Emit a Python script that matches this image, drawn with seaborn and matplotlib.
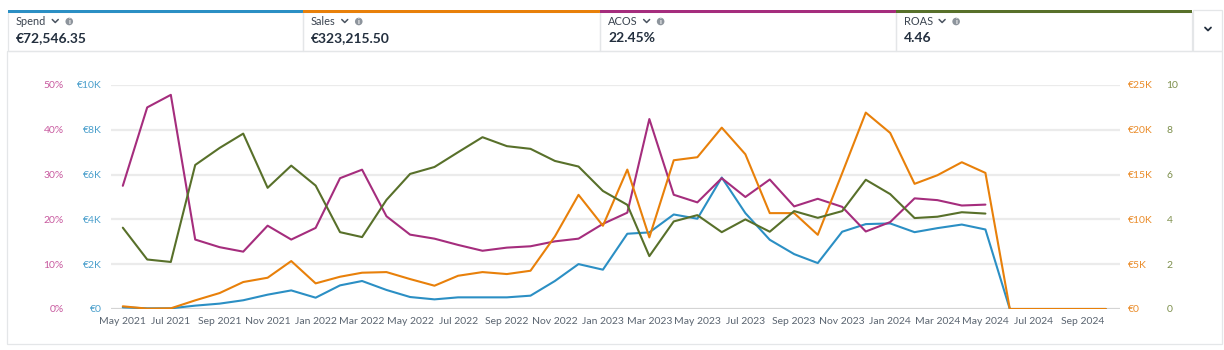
import numpy as np
import pandas as pd
import matplotlib
matplotlib.use("Agg")
import matplotlib.pyplot as plt
import matplotlib.dates as mdates
from matplotlib.patches import Rectangle, Circle
from matplotlib.ticker import FuncFormatter, MultipleLocator
import seaborn as sns

# ---- data (monthly, May 2021 .. Oct 2024) ----
months = pd.date_range("2021-05-01", "2024-10-01", freq="MS")

spend = [74, 30, 30, 150, 240, 390, 640, 830,
         505, 1055, 1250, 850, 535, 430, 520, 520, 520, 595, 1250, 2005,
         1755, 3360, 3420, 4220, 4030, 5870, 4280, 3090, 2450, 2050, 3450, 3790,
         3820, 3430, 3610, 3770, 3550, 0, 0, 0, 0, 0]

sales = [300, 40, 75, 965, 1780, 3010, 3490, 5350,
         2860, 3600, 4050, 4120, 3340, 2600, 3710, 4120, 3900, 4270, 8100, 12740,
         9290, 15560, 7990, 16600, 16940, 20240, 17270, 10700, 10700, 8280, 15160, 21920,
         19650, 13970, 14930, 16380, 15190, 0, 0, 0, 0, 0]

acos = [27.5, 45.0, 47.8, 15.5, 13.8, 12.8, 18.6, 15.5,
        18.1, 29.2, 31.1, 20.7, 16.6, 15.7, 14.3, 13.0, 13.7, 14.0, 15.1, 15.7,
        19.0, 21.5, 42.4, 25.5, 23.8, 29.2, 25.0, 28.9, 22.9, 24.6, 22.8, 17.3,
        19.4, 24.7, 24.3, 23.1, 23.3, np.nan, np.nan, np.nan, np.nan, np.nan]

roas = [3.63, 2.21, 2.10, 6.43, 7.19, 7.83, 5.41, 6.40,
        5.51, 3.43, 3.21, 4.87, 6.03, 6.34, 7.00, 7.67, 7.27, 7.15, 6.61, 6.36,
        5.27, 4.65, 2.36, 3.91, 4.19, 3.43, 4.00, 3.45, 4.37, 4.07, 4.37, 5.77,
        5.13, 4.06, 4.12, 4.32, 4.26, np.nan, np.nan, np.nan, np.nan, np.nan]

metric_names = ["Spend", "Sales", "ACOS", "ROAS"]
metric_totals = ["€72,546.35", "€323,215.50", "22.45%", "4.46"]

# ---- colours ----
C_SPEND = "#2b8fc4"
C_SALES = "#e8800a"
C_ACOS = "#a52d7d"
C_ROAS = "#58702a"
T_SPEND = "#4a9fcc"
T_SALES = "#ea8c2a"
T_ACOS = "#c85a9f"
T_ROAS = "#7d8f4c"
TXT = "#232f3e"
BORDER = "#e4e6e8"

sns.set_theme(style="white")
plt.rcParams["font.family"] = ["Lato", "DejaVu Sans"]

W, H = 1224, 350
fig = plt.figure(figsize=(W / 100, H / 100), dpi=100)
fig.patch.set_facecolor("white")

# overlay axes in pixel coordinates for header cards and frame
bg = fig.add_axes([0, 0, 1, 1])
bg.set_xlim(0, W)
bg.set_ylim(H, 0)
bg.axis("off")

# chart frame
bg.add_patch(Rectangle((7, 51), 1215, 293, fill=False, ec=BORDER, lw=0.9))

card_x = [8, 303, 600, 896, 1192]
card_colors = [C_SPEND, C_SALES, C_ACOS, C_ROAS]
for i, name in enumerate(metric_names):
    x0, x1 = card_x[i], card_x[i + 1]
    bg.add_patch(Rectangle((x0, 12), x1 - x0, 39, fill=False, ec=BORDER, lw=0.9))
    bg.add_patch(Rectangle((x0, 10), x1 - x0, 2.6, color=card_colors[i], lw=0))
    lx = x0 + 8
    t = bg.text(lx, 21.5, name, fontsize=7.9, color="#3b4450", va="center", ha="left")
    # measure the label to place chevron and info icon
    fig.canvas.draw()
    bb = t.get_window_extent()
    end = bb.x1
    cx = end + 9
    bg.plot([cx - 3, cx, cx + 3], [19.5, 22.5, 19.5], color="#4a5360", lw=1.1,
            solid_capstyle="round")
    ix = cx + 14
    bg.add_patch(Circle((ix, 21.5), 3.8, color="#8d949c", lw=0))
    bg.text(ix, 21.8, "i", fontsize=5, color="white", weight="bold",
            ha="center", va="center")
    bg.text(lx, 38, metric_totals[i], fontsize=10, color=TXT, weight="bold",
            va="center", ha="left")

# dropdown box on the right
bg.add_patch(Rectangle((1193, 10), 29, 41, fill=False, ec=BORDER, lw=0.9))
bg.plot([1205, 1208, 1211], [27.5, 30.5, 27.5], color=TXT, lw=1.3,
        solid_capstyle="round")

# ---- main plot ----
pl, pr, pt, pb = 111, 1120, 85, 309
ax = fig.add_axes([pl / W, (H - pb) / H, (pr - pl) / W, (pb - pt) / H])
ax.set_facecolor("none")

ax_acos = ax.twinx()
ax_sales = ax.twinx()
ax_roas = ax.twinx()

sns.lineplot(x=months, y=spend, ax=ax, color=C_SPEND, lw=1.5)
sns.lineplot(x=months, y=acos, ax=ax_acos, color=C_ACOS, lw=1.5)
sns.lineplot(x=months, y=roas, ax=ax_roas, color=C_ROAS, lw=1.5)
sns.lineplot(x=months, y=sales, ax=ax_sales, color=C_SALES, lw=1.5)

for a in (ax, ax_acos, ax_sales, ax_roas):
    for s in a.spines.values():
        s.set_visible(False)
    a.set_xlabel("")
    a.set_ylabel("")
    a.tick_params(length=0)
    a.patch.set_visible(False)

TICK_FS = 7.5

ax.set_ylim(0, 10000)
ax.yaxis.set_major_locator(MultipleLocator(2000))
ax.yaxis.set_major_formatter(FuncFormatter(lambda v, p: "€0" if v == 0 else f"€{v/1000:.0f}K"))
ax.tick_params(axis="y", colors=T_SPEND, labelsize=TICK_FS, pad=6.5)

ax_acos.set_ylim(0, 50)
ax_acos.yaxis.set_ticks_position("left")
ax_acos.spines["left"].set_position(("outward", 27.5))
ax_acos.yaxis.set_major_locator(MultipleLocator(10))
ax_acos.yaxis.set_major_formatter(FuncFormatter(lambda v, p: f"{v:.0f}%"))
ax_acos.tick_params(axis="y", colors=T_ACOS, labelsize=TICK_FS, pad=6.5)

ax_sales.set_ylim(0, 25000)
ax_sales.yaxis.set_major_locator(MultipleLocator(5000))
ax_sales.yaxis.set_major_formatter(FuncFormatter(lambda v, p: "€0" if v == 0 else f"€{v/1000:.0f}K"))
ax_sales.tick_params(axis="y", colors=T_SALES, labelsize=TICK_FS, pad=6)

ax_roas.set_ylim(0, 10)
ax_roas.spines["right"].set_position(("outward", 27.5))
ax_roas.yaxis.set_major_locator(MultipleLocator(2))
ax_roas.yaxis.set_major_formatter(FuncFormatter(lambda v, p: f"{v:.0f}"))
ax_roas.tick_params(axis="y", colors=T_ROAS, labelsize=TICK_FS, pad=6)

# horizontal grid lines
for v in range(2000, 10001, 2000):
    ax.axhline(v, color="#ebebeb", lw=1.6, zorder=0)
ax.axhline(0, color="#d4d4d4", lw=1.6, zorder=0)

ax.set_xlim(months[0] - pd.Timedelta(days=15), months[-1] + pd.Timedelta(days=18))
ax.xaxis.set_major_locator(mdates.MonthLocator(bymonth=[1, 3, 5, 7, 9, 11]))
ax.xaxis.set_major_formatter(mdates.DateFormatter("%b %Y"))
ax.tick_params(axis="x", colors="#5a6470", labelsize=TICK_FS, pad=6)

fig.savefig("out.png", dpi=100, facecolor="white")
